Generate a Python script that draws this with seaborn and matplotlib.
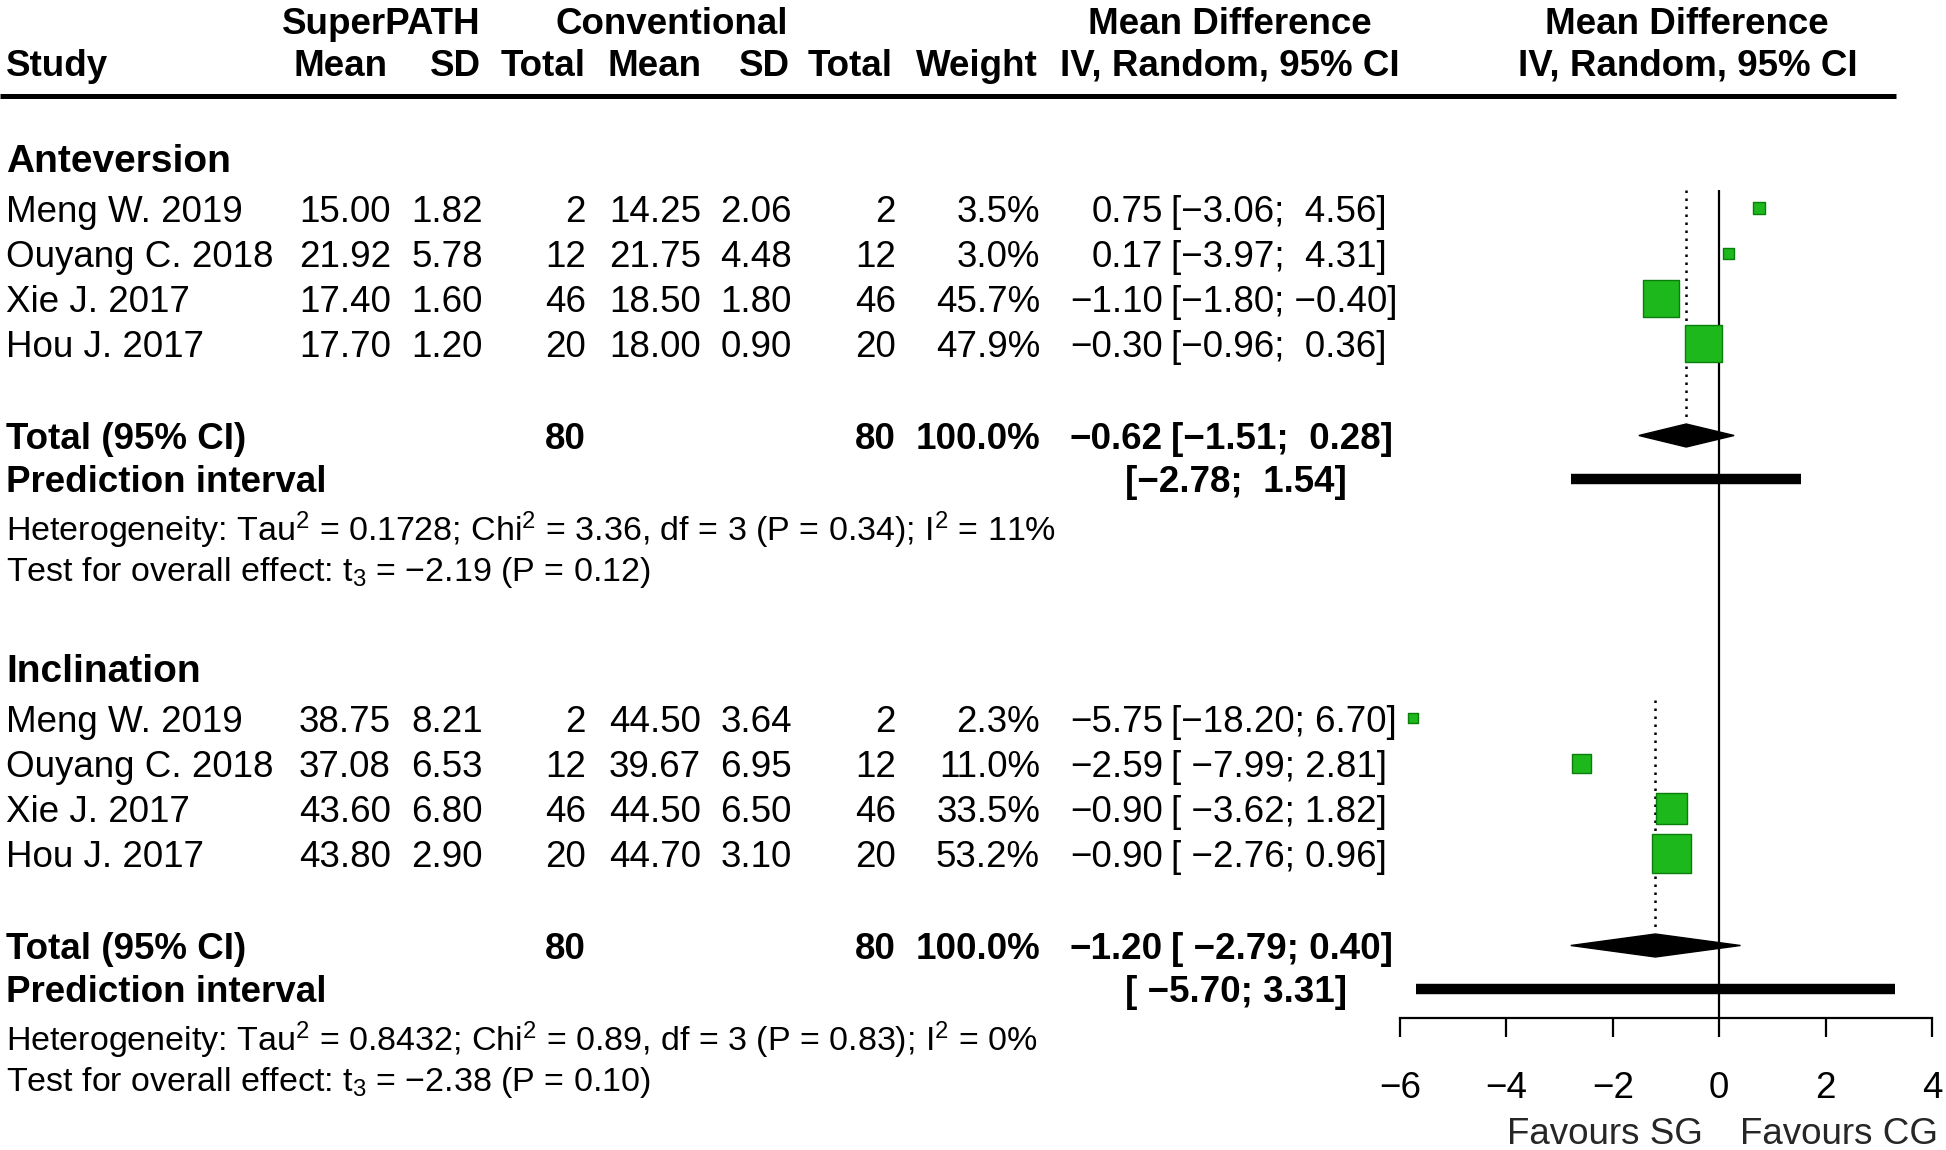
import numpy as np
import pandas as pd
import matplotlib
matplotlib.use("Agg")
import matplotlib.pyplot as plt
import matplotlib.transforms as mtransforms
import seaborn as sns

# ---------------- data ----------------
groups = ["Anteversion", "Inclination"]
studies = ["Meng W. 2019", "Ouyang C. 2018", "Xie J. 2017", "Hou J. 2017"]

ant_sp_mean = [15.00, 21.92, 17.40, 17.70]
ant_sp_sd = [1.82, 5.78, 1.60, 1.20]
ant_sp_n = [2, 12, 46, 20]
ant_cg_mean = [14.25, 21.75, 18.50, 18.00]
ant_cg_sd = [2.06, 4.48, 1.80, 0.90]
ant_cg_n = [2, 12, 46, 20]
ant_weight = [3.5, 3.0, 45.7, 47.9]
ant_weight_total = 100.0
ant_md = [0.75, 0.17, -1.10, -0.30]
ant_lo = [-3.06, -3.97, -1.80, -0.96]
ant_hi = [4.56, 4.31, -0.40, 0.36]
ant_total = [-0.62, -1.51, 0.28]
ant_pred = [-2.78, 1.54]
ant_het = "Heterogeneity: Tau$^2$ = 0.1728; Chi$^2$ = 3.36, df = 3 (P = 0.34); I$^2$ = 11%"
ant_test = "Test for overall effect: t$_3$ = \u22122.19 (P = 0.12)"

inc_sp_mean = [38.75, 37.08, 43.60, 43.80]
inc_sp_sd = [8.21, 6.53, 6.80, 2.90]
inc_sp_n = [2, 12, 46, 20]
inc_cg_mean = [44.50, 39.67, 44.50, 44.70]
inc_cg_sd = [3.64, 6.95, 6.50, 3.10]
inc_cg_n = [2, 12, 46, 20]
inc_weight = [2.3, 11.0, 33.5, 53.2]
inc_weight_total = 100.0
inc_md = [-5.75, -2.59, -0.90, -0.90]
inc_lo = [-18.20, -7.99, -3.62, -2.76]
inc_hi = [6.70, 2.81, 1.82, 0.96]
inc_total = [-1.20, -2.79, 0.40]
inc_pred = [-5.70, 3.31]
inc_het = "Heterogeneity: Tau$^2$ = 0.8432; Chi$^2$ = 0.89, df = 3 (P = 0.83); I$^2$ = 0%"
inc_test = "Test for overall effect: t$_3$ = \u22122.38 (P = 0.10)"

x_ticks = [-6, -4, -2, 0, 2, 4]
label_left = "Favours SG"
label_right = "Favours CG"

# ---------------- style ----------------
sns.set_theme(style="white")
plt.rcParams["font.family"] = ["Liberation Sans", "DejaVu Sans"]
plt.rcParams["mathtext.default"] = "regular"
plt.rcParams["axes.unicode_minus"] = True

MINUS = "\u2212"
FS = 26.5
FS_HET = 24.5
FS_GRP = 28
GREEN = "#1cb81c"
GREEN_EDGE = "#0b7d0b"
TXT_DY = 4


def num(v, d=2):
    return f"{v:.{d}f}".replace("-", MINUS)


def ci_strings(lows, highs):
    ls = [num(v) for v in lows]
    hs = [num(v) for v in highs]
    wl = max(len(s) for s in ls)
    wh = max(len(s) for s in hs)
    return ["[" + l.rjust(wl) + "; " + h.rjust(wh) + "]" for l, h in zip(ls, hs)]


W, H = 1946, 1150
fig = plt.figure(figsize=(W / 100, H / 100), dpi=100)
ax_t = fig.add_axes([0, 0, 1, 1])
ax_t.set_xlim(0, W)
ax_t.set_ylim(H, 0)
ax_t.axis("off")

XL_PX, XR_PX, AXIS_Y = 1400, 1932, 1018
ax_f = fig.add_axes([XL_PX / W, 1 - AXIS_Y / H, (XR_PX - XL_PX) / W, AXIS_Y / H])
ax_f.set_xlim(-6, 4)
ax_f.set_ylim(AXIS_Y, 0)
ax_f.patch.set_visible(False)
for s in ["left", "top", "right"]:
    ax_f.spines[s].set_visible(False)
ax_f.spines["bottom"].set_linewidth(1.6)
ax_f.spines["bottom"].set_color("black")
ax_f.set_xticks(x_ticks)
ax_f.set_yticks([])
ax_f.tick_params(axis="x", direction="out", length=13.5, width=1.6, colors="black",
                 labelsize=FS, pad=25, bottom=True)

# ---------------- header ----------------
def t(x, y, s, ha="left", bold=False, fs=FS):
    ax_t.text(x, y + TXT_DY, s, ha=ha, va="center", fontsize=fs,
              fontweight="bold" if bold else "normal", color="black")

t(381, 20, "SuperPATH", "center", True)
t(672, 20, "Conventional", "center", True)
t(1230, 20, "Mean Difference", "center", True)
t(1687, 20, "Mean Difference", "center", True)
t(6, 62, "Study", "left", True)
for x, s in [(387, "Mean"), (481, "SD"), (586, "Total"), (701, "Mean"),
             (790, "SD"), (893, "Total"), (1038, "Weight")]:
    t(x, 62, s, "right", True)
t(1230, 62, "IV, Random, 95% CI", "center", True)
t(1688, 62, "IV, Random, 95% CI", "center", True)
ax_t.plot([0, 1896], [95.5, 95.5], color="black", lw=3.6, solid_capstyle="butt")

# ---------------- body ----------------
ROW = 45.3
first_y = [208, 718]
gdata = [
    (ant_sp_mean, ant_sp_sd, ant_sp_n, ant_cg_mean, ant_cg_sd, ant_cg_n,
     ant_weight, ant_weight_total, ant_md, ant_lo, ant_hi, ant_total, ant_pred,
     ant_het, ant_test),
    (inc_sp_mean, inc_sp_sd, inc_sp_n, inc_cg_mean, inc_cg_sd, inc_cg_n,
     inc_weight, inc_weight_total, inc_md, inc_lo, inc_hi, inc_total, inc_pred,
     inc_het, inc_test),
]

rows = []
for g, (gname, fy, d) in enumerate(zip(groups, first_y, gdata)):
    (spm, sps, spn, cgm, cgs, cgn, wt, wtot, md, lo, hi, tot, pred, het, test) = d
    label_y = fy - 50
    total_y = fy + 227.5
    pred_y = fy + 271
    het_y = fy + 318
    test_y = fy + 360
    t(6, label_y, gname, "left", True, FS_GRP)
    cis = ci_strings(lo + [tot[1], pred[0]], hi + [tot[2], pred[1]])
    for i, st in enumerate(studies):
        y = fy + i * ROW
        t(6, y, st)
        t(391, y, num(spm[i]), "right")
        t(483, y, num(sps[i]), "right")
        t(586, y, str(spn[i]), "right")
        t(701, y, num(cgm[i]), "right")
        t(792, y, num(cgs[i]), "right")
        t(896, y, str(cgn[i]), "right")
        t(1040, y, num(wt[i], 1) + "%", "right")
        t(1163, y, num(md[i]), "right")
        t(1171, y, cis[i], "left")
        rows.append({"group": gname, "md": md[i], "y": y, "weight": wt[i]})
    # totals
    t(6, total_y, "Total (95% CI)", "left", True)
    t(586, total_y, str(sum(spn)), "right", True)
    t(896, total_y, str(sum(cgn)), "right", True)
    t(1040, total_y, num(wtot, 1) + "%", "right", True)
    t(1163, total_y, num(tot[0]), "right", True)
    t(1171, total_y, cis[4], "left", True)
    t(6, pred_y, "Prediction interval", "left", True)
    t(1125, pred_y, cis[5], "left", True)
    t(6, het_y, het, "left", False, FS_HET)
    t(6, test_y, test, "left", False, FS_HET)

    # forest elements
    ax_f.vlines(tot[0], label_y + 32, total_y - 14, colors="black",
                linestyles=(0, (1, 2.2)), lw=1.8)
    hh = 11.5
    ax_f.fill([tot[1], tot[0], tot[2], tot[0]],
              [total_y, total_y - hh, total_y, total_y + hh],
              color="black", clip_on=False, zorder=4)
    ax_f.hlines(pred_y, pred[0], pred[1], colors="black", lw=7.5,
                capstyle="butt", zorder=4)

df = pd.DataFrame(rows)
ax_f.vlines(0, first_y[0] - 18, AXIS_Y, colors="black", lw=1.6, zorder=3)
sns.scatterplot(data=df, x="md", y="y", size="weight", sizes=(20.7, 1471),
                size_norm=(0, 100), marker="s", color=GREEN,
                edgecolor=GREEN_EDGE, linewidth=1.0, legend=False, ax=ax_f,
                clip_on=False, zorder=5)
ax_f.set_xlabel("")
ax_f.set_ylabel("")
ax_f.set_ylim(AXIS_Y, 0)
ax_f.set_xlim(-6, 4)

blend = mtransforms.blended_transform_factory(ax_f.transData, ax_t.transData)
ax_f.text(-0.3, 1131 + TXT_DY, label_left, ha="right", va="center", fontsize=FS,
          transform=blend)
ax_f.text(0.4, 1131 + TXT_DY, label_right, ha="left", va="center", fontsize=FS,
          transform=blend)

fig.savefig("out.png", dpi=100, facecolor="white")
